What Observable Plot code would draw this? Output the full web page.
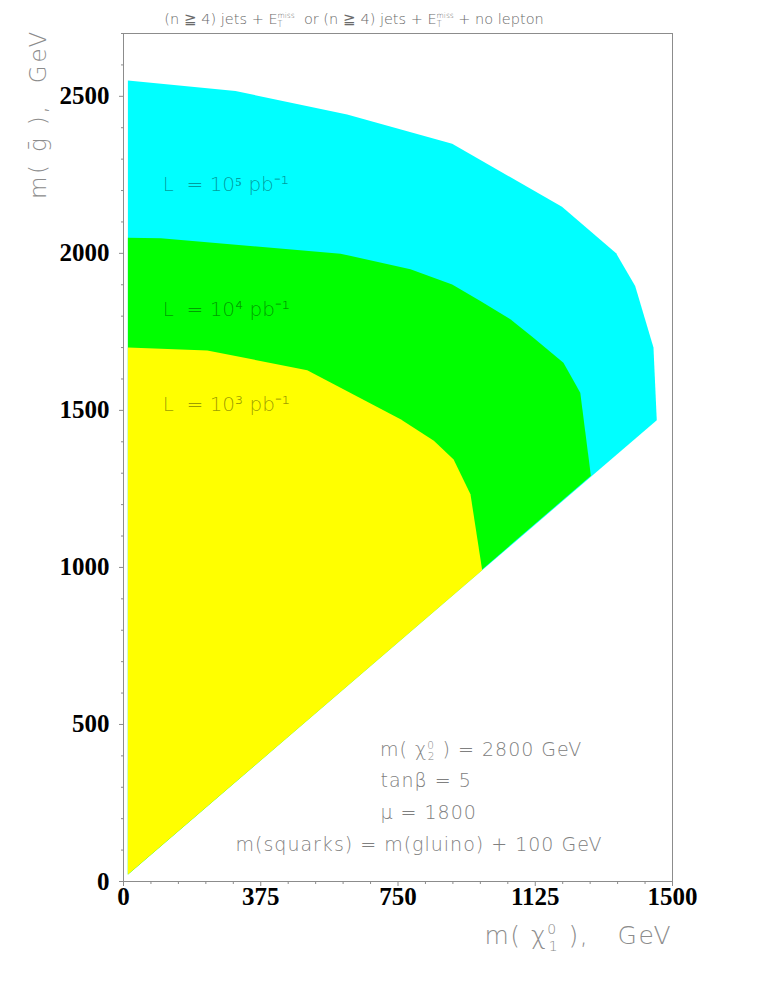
<!DOCTYPE html>
<html><head><meta charset="utf-8">
<script src="https://cdn.jsdelivr.net/npm/d3@7"></script>
<script src="https://cdn.jsdelivr.net/npm/@observablehq/plot@0.6"></script>
<style>body{margin:0;background:#fff} svg text{white-space:pre}</style>
</head><body><div id="chart"></div>
<script>
// Discovery-reach boundaries (m(chi1), m(gluino)) in GeV
const cyanX = [12, 306, 611, 898, 1198, 1346, 1398, 1448, 1457, 12];
const cyanY = [2550, 2517, 2442, 2349, 2148, 2000, 1896, 1700, 1469, 22];
const greenX = [12, 102, 593, 784, 898, 975, 1057, 1120, 1202, 1248, 1277, 12];
const greenY = [2050, 2048, 1999, 1949, 1901, 1848, 1790, 1731, 1652, 1556, 1292, 22];
const yellowX = [12, 229, 502, 757, 848, 902, 948, 980, 12];
const yellowY = [1700, 1691, 1628, 1472, 1403, 1344, 1233, 991, 22];

const xTicks = [0, 375, 750, 1125, 1500];
const yTicks = [0, 500, 1000, 1500, 2000, 2500];
const xMinor = d3.range(0, 1501, 75).filter(v => v % 375 !== 0);
const yMinor = d3.range(0, 2701, 100).filter(v => v % 500 !== 0);

const lumiLabels = ["L  = 10\u2075 pb\u207B\u00B9", "L  = 10\u2074 pb\u207B\u00B9", "L  = 10\u00B3 pb\u207B\u00B9"];
const paramLines = ["tan\u03B2 = 5", "\u03BC = 1800", "m(squarks) = m(gluino) + 100 GeV"];

const pts = (xs, ys) => xs.map((x, i) => ({x, y: ys[i]}));
const thin = {fontFamily: "DejaVu Sans", fontWeight: 200};
const tickFont = {fontFamily: "Liberation Serif", fontWeight: "bold", fontSize: 25, fill: "black", tickFormat: d => String(d)};
const noText = () => "";

const plot = Plot.plot({
  width: 763, height: 987,
  marginLeft: 123, marginRight: 91, marginTop: 33, marginBottom: 106,
  x: {domain: [0, 1500], label: null},
  y: {domain: [0, 2700], label: null},
  style: {background: "white", overflow: "visible"},
  marks: [
    Plot.line(pts(cyanX, cyanY), {x: "x", y: "y", fill: "#00ffff", stroke: "none", curve: "linear-closed"}),
    Plot.line(pts(greenX, greenY), {x: "x", y: "y", fill: "#00ff00", stroke: "none", curve: "linear-closed"}),
    Plot.line(pts(yellowX, yellowY), {x: "x", y: "y", fill: "#ffff00", stroke: "none", curve: "linear-closed"}),
    Plot.frame({stroke: "#8c8c8c"}),
    Plot.axisX({ticks: xMinor, tickSize: 3, tickFormat: noText, stroke: "#8c8c8c", label: null}),
    Plot.axisX({ticks: xTicks, tickSize: 5, tickFormat: noText, stroke: "#8c8c8c", label: null}),
    Plot.axisX({ticks: xTicks, tickSize: 0, tickPadding: 6, ...tickFont, label: null}),
    Plot.axisY({ticks: yMinor, tickSize: 2, tickFormat: noText, stroke: "#8c8c8c", label: null}),
    Plot.axisY({ticks: yTicks, tickSize: 4, tickFormat: noText, stroke: "#8c8c8c", label: null}),
    Plot.axisY({ticks: yTicks, tickSize: 0, tickPadding: 14, ...tickFont, label: null}),
    Plot.text([lumiLabels[0]], {x: 107, y: 2220, text: d => d, textAnchor: "start", fontSize: 20, fill: "black", fillOpacity: 0.4, ...thin}),
    Plot.text([lumiLabels[1]], {x: 107, y: 1820, text: d => d, textAnchor: "start", fontSize: 20, fill: "black", fillOpacity: 0.4, ...thin}),
    Plot.text([lumiLabels[2]], {x: 107, y: 1520, text: d => d, textAnchor: "start", fontSize: 20, fill: "black", fillOpacity: 0.4, ...thin}),
    Plot.text([paramLines[0]], {x: 702, y: 321, text: d => d, textAnchor: "start", fontSize: 19, fill: "#808080", ...thin}),
    Plot.text([paramLines[1]], {x: 702, y: 219, text: d => d, textAnchor: "start", fontSize: 19, fill: "#808080", ...thin}),
    Plot.text([paramLines[2]], {x: 306, y: 117, text: d => d, textAnchor: "start", fontSize: 19, fill: "#808080", ...thin})
  ]
});

const svg = d3.select(plot);
const sx = plot.scale("x"), sy = plot.scale("y");
svg.selectAll("text").filter(function() { return /squarks|tan|1800/.test(this.textContent); })
  .attr("letter-spacing", 1);

// Title with E_T^miss
const title = svg.append("text").attr("x", 354).attr("y", 24).attr("text-anchor", "middle")
  .attr("font-family", "DejaVu Sans").attr("font-weight", 200).attr("font-size", 14.5).attr("fill", "#6a6a6a");
function emiss(t) {
  t.append("tspan").text("E");
  t.append("tspan").attr("dy", 3).attr("font-size", 8).text("T");
  t.append("tspan").attr("dx", -5).attr("dy", -9).attr("font-size", 7.5).text("miss");
}
title.append("tspan").text("(n \u2267 4) jets + ");
emiss(title);
title.append("tspan").attr("dy", 6).text("  or (n \u2267 4) jets + ");
emiss(title);
title.append("tspan").attr("dy", 6).text(" + no lepton");

// Y axis title
svg.append("text").attr("transform", "translate(46,114) rotate(-90)").attr("text-anchor", "middle")
  .attr("font-family", "DejaVu Sans").attr("font-weight", 200).attr("font-size", 23)
  .attr("letter-spacing", 2.8).attr("fill", "#8c8c8c").text("m( \u1E21 ),  GeV");

// X axis title
const xl = svg.append("text").attr("x", 672).attr("y", 944).attr("text-anchor", "end")
  .attr("font-family", "DejaVu Sans").attr("font-weight", 200).attr("font-size", 25)
  .attr("letter-spacing", 1.5).attr("fill", "#8c8c8c");
xl.append("tspan").text("m( \u03C7");
xl.append("tspan").attr("dy", -10).attr("font-size", 14).text("0");
xl.append("tspan").attr("dx", -9).attr("dy", 17).attr("font-size", 14).text("1");
xl.append("tspan").attr("dy", -7).text(" ),   GeV");

// Parameter line with chi2
const p1 = svg.append("text").attr("x", sx.apply(702)).attr("y", sy.apply(416) + 6).attr("text-anchor", "start")
  .attr("font-family", "DejaVu Sans").attr("font-weight", 200).attr("font-size", 19)
  .attr("letter-spacing", 1).attr("fill", "#808080");
p1.append("tspan").text("m( \u03C7");
p1.append("tspan").attr("dy", -7).attr("font-size", 10.5).text("0");
p1.append("tspan").attr("dx", -7).attr("dy", 11).attr("font-size", 10.5).text("2");
p1.append("tspan").attr("dy", -4).text(" ) = 2800 GeV");

document.getElementById("chart").appendChild(plot);
</script>
</body></html>
